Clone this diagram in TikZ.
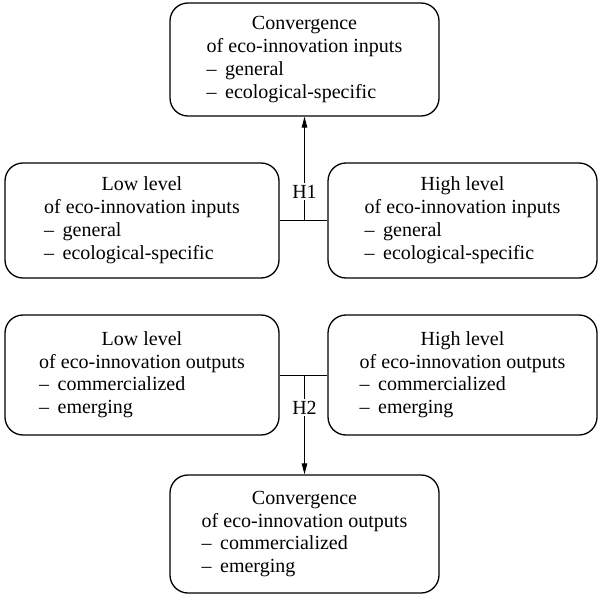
\documentclass[tikz,border=0pt]{standalone}
\usepackage{fontspec}
\setmainfont{Liberation Serif}
\usetikzlibrary{arrows.meta}
\newcommand{\itm}{–\hspace{0.42em}}
\newcommand{\boxtext}[2]{\fontsize{20}{22.7}\selectfont\begin{tabular}{@{}l@{}}\multicolumn{1}{@{}c@{}}{#1}\\#2\end{tabular}}
\tikzset{
  ecobox/.style={draw, line width=1.3pt, rounded corners=18pt, inner sep=0pt, align=center},
  link/.style={line width=1pt},
  arrowlink/.style={line width=1pt, -{Triangle[length=11pt,width=5.5pt]}},
  hlabel/.style={fill=white, inner sep=2pt, font=\fontsize{20}{22.7}\selectfont}
}
\begin{document}
\begin{tikzpicture}[x=1pt,y=-1pt]
\useasboundingbox (0,0) rectangle (602,596);
\node[ecobox, minimum width=269pt, minimum height=113pt] (top) at (304.5,59.5)
  {\boxtext{Convergence}{of eco-innovation inputs\\\itm general\\\itm ecological-specific}};
\node[ecobox, minimum width=274pt, minimum height=115pt] (inL) at (142,220.5)
  {\boxtext{Low level}{of eco-innovation inputs\\\itm general\\\itm ecological-specific}};
\node[ecobox, minimum width=269pt, minimum height=115pt] (inR) at (462.5,220.5)
  {\boxtext{High level}{of eco-innovation inputs\\\itm general\\\itm ecological-specific}};
\node[ecobox, minimum width=274pt, minimum height=120pt] (outL) at (142,375)
  {\boxtext{Low level}{of eco-innovation outputs\\\itm commercialized\\\itm emerging}};
\node[ecobox, minimum width=269pt, minimum height=120pt] (outR) at (462.5,375)
  {\boxtext{High level}{of eco-innovation outputs\\\itm commercialized\\\itm emerging}};
\node[ecobox, minimum width=269pt, minimum height=118pt] (bot) at (304.5,534)
  {\boxtext{Convergence}{of eco-innovation outputs\\\itm commercialized\\\itm emerging}};
\draw[link] (inL.east) -- (inR.west);
\coordinate (h1) at (top.south |- inL.east);
\draw[arrowlink] (h1) -- node[hlabel, pos=0.28] (lab1) {H1} (top.south);
\draw[link] (outL.east) -- (outR.west);
\coordinate (h2) at (bot.north |- outL.east);
\draw[arrowlink] (h2) -- node[hlabel, pos=0.33] (lab2) {H2} (bot.north);
\end{tikzpicture}
\end{document}
